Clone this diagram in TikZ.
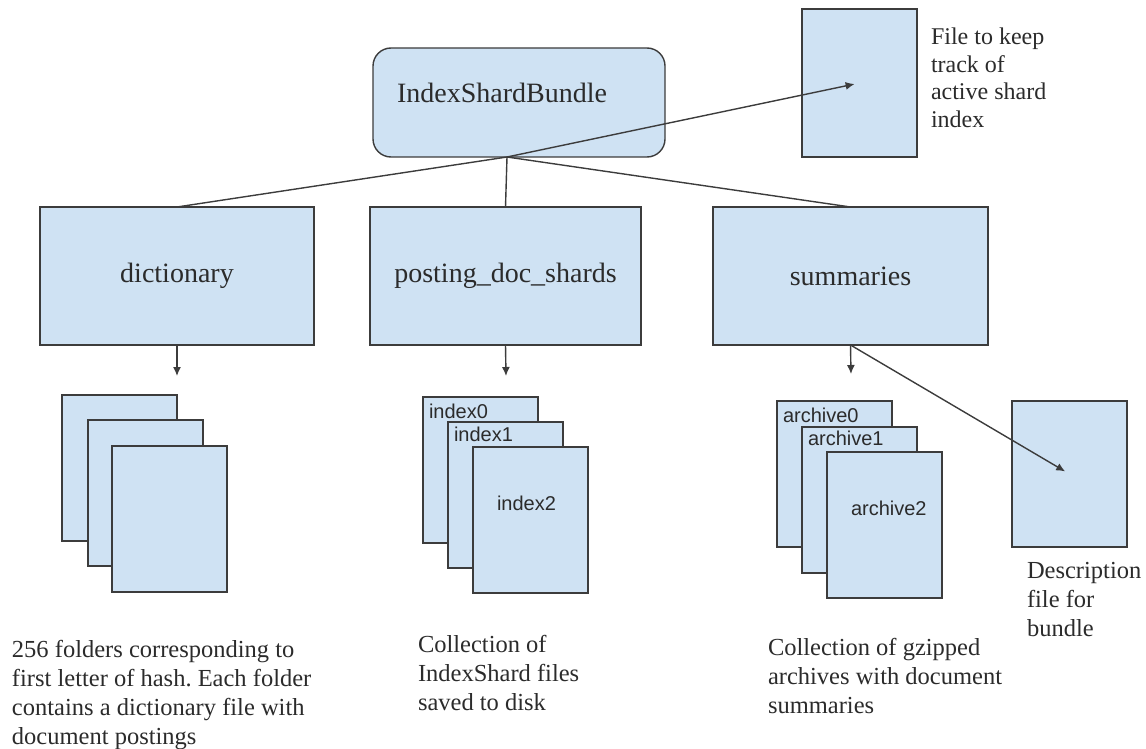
\documentclass[tikz,border=0pt]{standalone}
\usepackage{fontspec}
\setmainfont{Liberation Serif}
\newfontfamily\labelsans{Liberation Sans}
\usetikzlibrary{arrows.meta}
\frenchspacing

\definecolor{boxfill}{HTML}{CFE2F3}
\definecolor{boxline}{HTML}{3C3C3C}
\definecolor{inktext}{HTML}{2B2B2B}

\begin{document}
\begin{tikzpicture}[x=1pt,y=-1pt,
  every node/.style={inner sep=0pt, outer sep=0pt},
  folder/.style={draw=boxline, fill=boxfill, line width=1.4pt,
    text=inktext, font=\fontsize{28}{32}\selectfont},
  bundlebox/.style={folder, rounded corners=18pt},
  filebox/.style={draw=boxline, fill=boxfill, line width=1.4pt,
    minimum width=115pt, minimum height=146pt, anchor=north west},
  filetag/.style={anchor=base west, text=inktext,
    font=\labelsans\fontsize{20}{24}\selectfont},
  % multi-line captions are placed by the baseline of their last line
  caption/.style={anchor=base west, align=left, text=inktext,
    font=\fontsize{24.5}{29}\selectfont},
  link/.style={draw=boxline, line width=1.4pt},
  arrowlink/.style={link, -{Latex[length=9pt,width=8pt]}}
]
\useasboundingbox (0,0) rectangle (1146,749);

% top level bundle and its tracking file
\node[bundlebox, minimum width=292pt, minimum height=109pt] (bundle) at (519,102.5) {};
\node[text=inktext, font=\fontsize{28}{32}\selectfont, anchor=base] (bundletext) at (502,103) {IndexShardBundle};
\coordinate (hub) at (507,157);
\node[filebox, minimum height=148pt] (active) at (802,9) {};

% the three sub-folders
\node[folder, minimum width=274pt, minimum height=138pt] (dict) at (177,276) {dictionary};
\node[folder, minimum width=271pt, minimum height=138pt] (posting) at (505.5,276) {posting\_doc\_shards};
\node[folder, minimum width=275pt, minimum height=138pt] (summ) at (850.5,276) {summaries};

% connectors from the bundle
\path[link] (hub) -- (dict.north);
\path[link] (hub) -- (posting.north);
\path[link] (hub) -- (summ.north);
\path[arrowlink, shorten >=5pt] (hub) -- (active.center);

% dictionary folders
\node[filebox] (d0) at (62,395) {};
\node[filebox] (d1) at (88,420) {};
\node[filebox] (d2) at (112,446) {};

% index shard files
\node[filebox] (i0) at (423,397) {};
\node[filetag] at (429,418) {index0};
\node[filebox] (i1) at (448,422) {};
\node[filetag] at (454,441) {index1};
\node[filebox] (i2) at (473,447) {};
\node[filetag] at (497,510) {index2};

% summary archives
\node[filebox] (a0) at (777,401) {};
\node[filetag] at (783,422) {archive0};
\node[filebox] (a1) at (802,427) {};
\node[filetag] at (808,445) {archive1};
\node[filebox] (a2) at (827,452) {};
\node[filetag] at (851,515) {archive2};

% description file
\node[filebox] (desc) at (1012,401) {};

% downward arrows
\coordinate (dictdown) at (177,376);
\coordinate (postdown) at (506,376);
\coordinate (summdown) at (851,374);
\path[arrowlink] (dict.south) -- (dictdown);
\path[arrowlink] (posting.south) -- (postdown);
\path[arrowlink] (summ.south) -- (summdown);
\path[arrowlink, shorten >=5pt] (summ.south) -- (desc.center);

% captions
\node[caption, font=\fontsize{24}{27.5}\selectfont] (activetext) at (931,127.5)
  {File to keep\\track of\\active shard\\index};
\node[caption] (dicttext) at (12,744)
  {256 folders corresponding to\\first letter of hash. Each folder\\contains a dictionary file with\\document postings};
\node[caption] (posttext) at (418,710)
  {Collection of\\IndexShard files\\saved to disk};
\node[caption] (summtext) at (768,713)
  {Collection of gzipped\\archives with document\\summaries};
\node[caption] (desctext) at (1027,636)
  {Description\\file for\\bundle};
\end{tikzpicture}
\end{document}
